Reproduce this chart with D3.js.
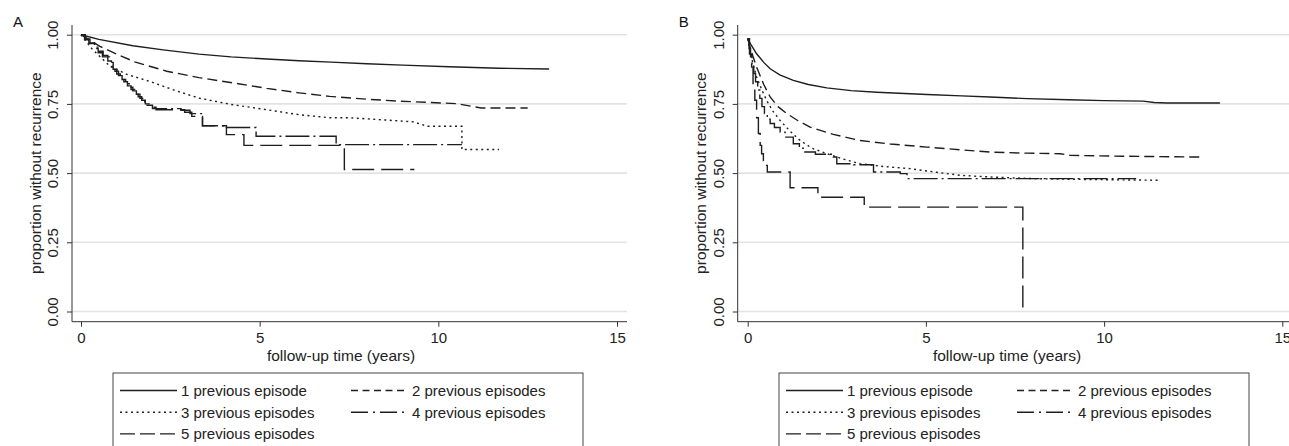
<!DOCTYPE html>
<html lang="en">
<head>
<meta charset="UTF-8" />
<title>Recurrence by previous episodes</title>
<script src="https://d3js.org/d3.v7.js"></script>
<style>
  body { margin: 0; background: #fff; }
  svg { display: block; font-family: "Liberation Sans", Arial, sans-serif; }
</style>
</head>
<body>
<div id="chart"></div>
<script>
// axis ticks + legend labels
const timeTicks = [0, 5, 10, 15];
const propTicks = [0, 0.25, 0.5, 0.75, 1];
const seriesNames = ["1 previous episode", "2 previous episodes", "3 previous episodes",
                     "4 previous episodes", "5 previous episodes"];

// panel A  [years, proportion]
const a1prev = [[0,1],[0.5,0.983],[1.45,0.96],[2.3,0.945],[3.3,0.93],[4.2,0.92],[5.2,0.912],[6.1,0.906],
  [7.0,0.901],[8.0,0.895],[9.0,0.89],[10.3,0.884],[11.7,0.879],[13.1,0.876]];
const a2prev = [[0,1],[0.25,0.98],[0.53,0.958],[1.0,0.93],[1.5,0.902],[2.4,0.868],[3.3,0.845],[4.25,0.826],
  [5.2,0.806],[6.1,0.79],[6.96,0.777],[8.0,0.767],[8.9,0.76],[10.5,0.751],[10.9,0.742],[11.2,0.735],[12.5,0.735]];
const a3prev = [[0,1],[0.3,0.95],[0.81,0.886],[1.3,0.856],[1.93,0.831],[2.6,0.8],[3.3,0.771],[4.2,0.748],
  [5.2,0.729],[6.1,0.711],[6.96,0.7],[7.5,0.7],[8.5,0.692],[9.3,0.685],[9.7,0.669],[10.66,0.669],
  [10.66,0.585],[11.7,0.585]];
// step curves (value holds until next time)
const a4prev = [[0,1],[0.12,0.985],[0.25,0.97],[0.38,0.955],[0.5,0.94],[0.62,0.925],[0.75,0.905],[0.85,0.885],
  [0.95,0.868],[1.05,0.852],[1.15,0.838],[1.25,0.823],[1.35,0.81],[1.45,0.797],[1.55,0.785],[1.65,0.77],
  [1.75,0.758],[1.85,0.745],[2.0,0.733],[2.8,0.727],[3.05,0.715],[3.4,0.671],[4.07,0.665],[4.9,0.633],
  [7.14,0.603],[10.66,0.603]];
const a5prev = [[0,1],[0.1,0.982],[0.22,0.968],[0.35,0.95],[0.48,0.935],[0.6,0.92],[0.8,0.9],[0.9,0.875],
  [1.0,0.858],[1.1,0.843],[1.2,0.83],[1.3,0.815],[1.4,0.802],[1.5,0.79],[1.6,0.776],[1.7,0.763],[1.8,0.75],
  [1.95,0.738],[2.1,0.729],[2.9,0.72],[3.1,0.705],[3.4,0.671],[4.07,0.639],[4.56,0.6],[7.37,0.513],[9.33,0.513]];

// panel B
const b1prev = [[0,0.986],[0.1,0.962],[0.25,0.931],[0.45,0.9],[0.63,0.877],[0.9,0.855],[1.28,0.835],[1.7,0.82],
  [2.22,0.808],[2.9,0.798],[3.62,0.792],[5.03,0.784],[6.0,0.779],[6.8,0.775],[7.84,0.769],[9.0,0.765],
  [10.0,0.762],[11.1,0.76],[11.4,0.755],[11.77,0.753],[13.25,0.753]];
const b2prev = [[0,0.986],[0.1,0.94],[0.25,0.883],[0.45,0.82],[0.63,0.775],[0.85,0.74],[1.1,0.715],[1.4,0.69],
  [1.75,0.666],[2.4,0.64],[3.15,0.618],[4.0,0.605],[5.03,0.594],[6.0,0.584],[6.8,0.576],[7.8,0.572],
  [8.77,0.57],[9.05,0.564],[10.5,0.561],[12.7,0.558]];
const b3prev = [[0,0.986],[0.1,0.92],[0.25,0.847],[0.4,0.8],[0.53,0.763],[0.7,0.725],[0.91,0.69],[1.2,0.65],
  [1.47,0.618],[1.8,0.59],[2.22,0.57],[2.7,0.55],[3.15,0.534],[3.8,0.524],[4.56,0.516],[5.3,0.503],
  [5.96,0.492],[6.8,0.486],[8.0,0.48],[9.5,0.477],[11.6,0.474]];
const b4prev = [[0,0.986],[0.04,0.95],[0.08,0.92],[0.12,0.89],[0.17,0.86],[0.22,0.83],[0.28,0.8],[0.34,0.77],
  [0.4,0.74],[0.47,0.715],[0.55,0.695],[0.63,0.679],[0.75,0.665],[0.91,0.648],[1.05,0.63],[1.28,0.606],
  [1.45,0.59],[1.56,0.576],[1.9,0.568],[2.4,0.558],[2.5,0.534],[2.97,0.53],[3.53,0.504],[4.28,0.498],
  [4.47,0.48],[10.9,0.48]];
const b5prev = [[0,0.986],[0.05,0.93],[0.11,0.883],[0.15,0.82],[0.2,0.763],[0.25,0.7],[0.3,0.643],[0.35,0.6],
  [0.39,0.57],[0.44,0.545],[0.49,0.528],[0.55,0.504],[1.19,0.447],[1.97,0.413],[3.27,0.377],[7.72,0]];

const lineStyles = [
  {dash: null,        legendDash: null,        step: false},
  {dash: "10,5",      legendDash: "7,4.5",     step: false},
  {dash: "2,3.5",     legendDash: "2,3.5",     step: false},
  {dash: "24,4,2,4",  legendDash: "17,5,2,5",  step: true},
  {dash: "22,7",      legendDash: "15,5",      step: true}
];

const W = 1289, H = 446;
const ink = "#1e1e1e";

const svg = d3.select("#chart").append("svg")
  .attr("width", W).attr("height", H);

function drawPanel(label, series, p) {
  const g = svg.append("g");
  const x = d3.scaleLinear().domain([0, 15]).range([p.x0, p.x15]);
  const y = d3.scaleLinear().domain([0, 1]).range([311.5, 34.7]);

  // gridlines
  g.append("g").selectAll("line").data(propTicks).join("line")
    .attr("x1", p.axisX).attr("x2", p.right)
    .attr("y1", d => y(d)).attr("y2", d => y(d))
    .attr("stroke", "#e3e3e3").attr("stroke-width", 1.6);

  // y axis
  const ya = g.append("g").attr("transform", `translate(${p.axisX},0)`)
    .call(d3.axisLeft(y).tickValues(propTicks).tickFormat(d3.format(".2f")).tickSize(5).tickSizeOuter(0));
  ya.select(".domain").attr("d", `M0,25V321.7`);
  ya.selectAll("text")
    .attr("transform", "rotate(-90)")
    .attr("x", 0).attr("y", -14).attr("dy", 0)
    .attr("text-anchor", "middle")
    .style("font-size", "15px").attr("fill", "#222");

  // x axis
  const xa = g.append("g").attr("transform", "translate(0,321.7)")
    .call(d3.axisBottom(x).tickValues(timeTicks).tickSize(5).tickSizeOuter(0));
  xa.select(".domain").attr("d", `M${p.axisX},0H${p.right}`);
  xa.selectAll("text").attr("y", 21).attr("dy", 0)
    .style("font-size", "15px").attr("fill", "#222");
  g.selectAll(".domain, .tick line").attr("stroke", "#333");

  // titles
  g.append("text")
    .attr("transform", `translate(${p.axisX - 31.5},${y(0.5)}) rotate(-90)`)
    .attr("text-anchor", "middle").style("font-size", "15.5px").attr("fill", "#222")
    .text("proportion without recurrence");
  g.append("text")
    .attr("x", x(7.5) - 8).attr("y", 361)
    .attr("text-anchor", "middle").style("font-size", "15.5px").attr("fill", "#222")
    .text("follow-up time (years)");
  g.append("text").attr("x", p.axisX - 59).attr("y", 27)
    .style("font-size", "15px").attr("fill", "#111").text(label);

  // curves
  series.forEach((s, i) => {
    const st = lineStyles[i];
    const line = d3.line().x(d => x(d[0])).y(d => y(d[1]))
      .curve(st.step ? d3.curveStepAfter : d3.curveLinear);
    g.append("path").datum(s)
      .attr("d", line)
      .attr("fill", "none").attr("stroke", ink).attr("stroke-width", 1.4)
      .attr("stroke-dasharray", st.dash);
  });

  // legend
  const lx = x(7.5) - 236, ly = 373;
  const lg = g.append("g").attr("transform", `translate(${lx},${ly})`);
  lg.append("rect").attr("x", 0).attr("y", 0).attr("width", 470).attr("height", 90)
    .attr("fill", "#fff").attr("stroke", "#444").attr("stroke-width", 1);
  const items = lg.selectAll("g.item").data(seriesNames).join("g")
    .attr("transform", (d, i) => `translate(${(i % 2) * 231},${17.5 + Math.floor(i / 2) * 21.7})`);
  items.append("line")
    .attr("x1", 7).attr("x2", 64).attr("y1", 0).attr("y2", 0)
    .attr("stroke", ink).attr("stroke-width", 1.4)
    .attr("stroke-dasharray", (d, i) => lineStyles[i].legendDash);
  items.append("text")
    .attr("x", 68).attr("y", 5.5)
    .style("font-size", "15px").attr("fill", "#222")
    .text(d => d);
}

drawPanel("A", [a1prev, a2prev, a3prev, a4prev, a5prev],
  {axisX: 72, x0: 81, x15: 617, right: 627});
drawPanel("B", [b1prev, b2prev, b3prev, b4prev, b5prev],
  {axisX: 737.7, x0: 747.7, x15: 1282.3, right: 1289});
</script>
</body>
</html>
